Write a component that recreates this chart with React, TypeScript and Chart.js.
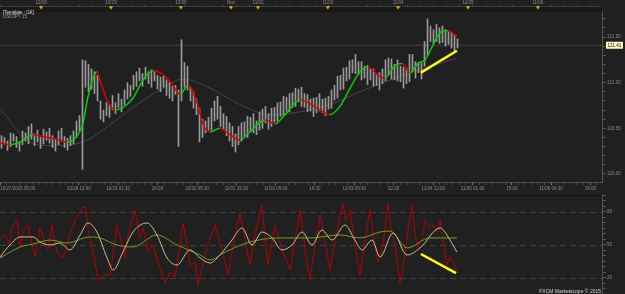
import React, { useEffect, useRef } from 'react';
import { Chart, registerables } from 'chart.js';
Chart.register(...registerables);

// ---------- DATA ----------
// price bars, one per bar index (low / high)
const priceLows = [
  120.28, 120.33, 120.26, 120.30, 120.36, 120.29, 120.25, 120.32, 120.36, 120.33,
  120.38, 120.31, 120.35, 120.28, 120.33, 120.37, 120.34, 120.29, 120.25, 120.32,
  120.36, 120.29, 120.26, 120.31, 120.33, 120.40, 120.47, 120.05, 120.95, 120.90,
  120.93, 120.88, 120.80, 120.60, 120.57, 120.64, 120.62, 120.70, 120.66, 120.73,
  120.68, 120.76, 120.82, 120.85, 120.92, 120.96, 121.02, 120.96, 121.04, 120.99,
  120.95, 121.02, 120.93, 120.90, 120.95, 120.86, 120.83, 120.80, 120.87, 120.30,
  120.80, 120.95, 120.92, 120.80, 120.72, 120.65, 120.35, 120.40, 120.45, 120.48,
  120.48, 120.58, 120.60, 120.52, 120.48, 120.42, 120.36, 120.30, 120.24, 120.32,
  120.36, 120.41, 120.40, 120.46, 120.45, 120.43, 120.48, 120.50, 120.56, 120.49,
  120.52, 120.57, 120.58, 120.63, 120.64, 120.69, 120.68, 120.73, 120.74, 120.79,
  120.74, 120.73, 120.68, 120.69, 120.63, 120.67, 120.69, 120.67, 120.64, 120.71,
  120.72, 120.81, 120.83, 120.92, 120.93, 121.02, 121.04, 121.11, 121.10, 121.09,
  121.03, 121.05, 120.98, 121.03, 120.96, 120.97, 120.92, 120.99, 121.02, 121.09,
  121.04, 121.03, 121.02, 121.01, 120.94, 120.99, 121.01, 121.12, 121.05, 121.11,
  121.04, 121.18, 121.30, 121.45, 121.42, 121.45, 121.43, 121.44, 121.40, 121.42,
  121.38, 121.35, 121.38,
];
const priceHighs = [
  120.42, 120.40, 120.36, 120.45, 120.44, 120.41, 120.35, 120.47, 120.45, 120.52,
  120.55, 120.44, 120.48, 120.40, 120.49, 120.46, 120.50, 120.42, 120.38, 120.47,
  120.50, 120.41, 120.39, 120.42, 120.47, 120.58, 120.64, 121.25, 121.24, 121.20,
  121.15, 121.12, 121.08, 120.80, 120.70, 120.78, 120.76, 120.86, 120.78, 120.88,
  120.82, 120.92, 121.00, 120.97, 121.08, 121.12, 121.16, 121.10, 121.17, 121.12,
  121.14, 121.13, 121.08, 121.06, 121.07, 121.03, 121.00, 120.96, 120.97, 120.92,
  121.47, 121.22, 121.18, 120.95, 120.90, 120.82, 120.72, 120.60, 120.58, 120.62,
  120.72, 120.80, 120.85, 120.74, 120.66, 120.63, 120.56, 120.52, 120.44, 120.52,
  120.56, 120.57, 120.63, 120.62, 120.66, 120.58, 120.68, 120.71, 120.74, 120.66,
  120.72, 120.73, 120.78, 120.79, 120.85, 120.84, 120.88, 120.89, 120.94, 120.93,
  120.95, 120.88, 120.87, 120.82, 120.83, 120.84, 120.88, 120.82, 120.83, 120.85,
  120.92, 120.97, 121.07, 121.08, 121.16, 121.17, 121.24, 121.25, 121.31, 121.23,
  121.23, 121.18, 121.19, 121.15, 121.15, 121.10, 121.11, 121.15, 121.25, 121.27,
  121.26, 121.20, 121.25, 121.18, 121.17, 121.16, 121.31, 121.31, 121.23, 121.22,
  121.21, 121.45, 121.70, 121.62, 121.58, 121.64, 121.60, 121.62, 121.58, 121.56,
  121.55, 121.52, 121.48,
];

// fast moving average (bar index, value)
const maIndex = [0, 3.3, 6.7, 11, 14.3, 17.7, 22.3, 25, 27.7, 29.3, 32.3, 33.3, 35.7, 38.3, 41, 44.3, 47.7, 51, 54.3, 57.7, 60, 62.7, 65.7, 67.7, 70, 73.3, 76.7, 80, 83.3, 88.3, 91.7, 95, 100, 103.3, 106.7, 110, 113.3, 116.7, 120, 122.7, 126, 128.3, 131.7, 134, 136.7, 139.3, 141.7, 144, 145.7, 147.7, 149.3, 152.3];
const maValues = [120.34, 120.32, 120.35, 120.43, 120.41, 120.39, 120.35, 120.39, 120.56, 120.84, 121.12, 121.03, 120.81, 120.70, 120.73, 120.83, 121.03, 121.13, 121.09, 120.97, 120.87, 120.97, 120.78, 120.54, 120.46, 120.50, 120.43, 120.37, 120.46, 120.59, 120.55, 120.65, 120.81, 120.77, 120.70, 120.65, 120.74, 120.94, 121.12, 121.17, 121.08, 121.05, 121.19, 121.21, 121.11, 121.21, 121.25, 121.39, 121.50, 121.57, 121.57, 121.51];

// slow moving average
const slowMaIndex = [0, 9, 16.7, 27.7, 36.7, 44.3, 53.3, 61, 70, 80, 90, 100, 110, 120, 130, 140, 152.3];
const slowMaValues = [120.72, 120.37, 120.31, 120.35, 120.54, 120.73, 120.92, 121.04, 120.94, 120.76, 120.65, 120.68, 120.76, 120.90, 121.03, 121.14, 121.27];

const lastPrice = 121.41;
const priceTrendIndex = [140.3, 152.3];
const priceTrendValues = [121.11, 121.35];

// oscillator lines
const oscRedIndex = [0, 1.7, 3.3, 4, 5.7, 6.7, 7.7, 9.3, 11.7, 13.3, 16, 17.3, 19, 21, 23.3, 25.3, 27.7, 28.7, 29.3, 31, 32.7, 35, 36.7, 39, 40.7, 41.7, 42.7, 45, 46.7, 47.7, 49.3, 51, 52.7, 55, 56.7, 58.3, 60, 61, 62.3, 63.3, 65, 66, 67.7, 69.3, 71.7, 74, 76, 78, 80, 81.7, 83.3, 85.3, 87.3, 89.3, 91.7, 94, 96.7, 98.3, 100, 101.7, 103.3, 105, 106.7, 108.3, 110, 112, 114.3, 115.3, 116.7, 118.3, 120, 121.7, 123.3, 124.7, 126, 127.7, 129.3, 130.7, 131.7, 133.3, 135, 136, 137.3, 138.3, 139.3, 140.7, 141.7, 143.3, 144.3, 145.7, 146.7, 147.7, 149, 150, 151, 152.3];
const oscRedValues = [56.4, 59.1, 50, 65.5, 72.7, 47.3, 61.8, 68.2, 39.1, 65.5, 45.5, 68.2, 43.6, 38.2, 59.1, 74.5, 84.5, 83.6, 65.5, 43.6, 18.2, 22.7, 22.7, 68.2, 50, 38.2, 59.1, 81.8, 56.4, 65.5, 43.6, 50, 34.5, 15.5, 25.5, 20.9, 50, 70, 52.7, 31.8, 34.5, 13.6, 34.5, 50, 68.2, 45.5, 22.7, 54.5, 79.1, 54.5, 31.8, 63.6, 86.4, 31.8, 68.2, 45.5, 27.3, 54.5, 81.8, 45.5, 18.2, 50, 77.3, 54.5, 27.3, 59.1, 88.2, 72.7, 81.8, 50, 22.7, 54.5, 81.8, 54.5, 34.5, 50, 88.2, 59.1, 50, 15.5, 40.9, 63.6, 86.4, 61.8, 47.3, 56.4, 72.7, 66.4, 68.2, 61.8, 72.7, 52.7, 31.8, 39.1, 34.5, 24.5];
const oscTanIndex = [0, 3.3, 6.7, 11, 13.3, 16.7, 20, 23.3, 26.7, 29.3, 32.3, 35.7, 37.7, 41, 44.3, 49, 52.3, 55.7, 59, 63.3, 66.7, 70, 73.3, 77.3, 80.7, 84, 87.3, 90.7, 94, 97.3, 100.7, 104, 107.3, 110.7, 115, 118.3, 120.7, 124, 126.7, 131, 135.7, 140, 146.7, 150, 152.3];
const oscTanValues = [39.1, 50, 57.3, 57.3, 52.7, 50, 51.8, 45.5, 59.1, 70, 61.8, 38.2, 27.3, 43.6, 61.8, 70, 59.1, 38.2, 31.8, 45.5, 38.2, 33.6, 40.9, 54.5, 65.5, 50, 61.8, 56.4, 45.5, 50, 61.8, 50, 63.6, 54.5, 68.2, 54.5, 45.5, 54.5, 39.1, 60.9, 40.9, 47.3, 65.5, 54.5, 43.6];
const oscGreenIndex = [0, 6.7, 11, 16.7, 22.3, 30, 33.3, 39, 44.3, 52.3, 59, 66.7, 70, 75, 83.3, 93.3, 103.3, 113.3, 120, 126.7, 130, 135.7, 143.3, 152.3];
const oscGreenValues = [38.2, 48.2, 50.9, 54.5, 51.8, 57.3, 56.4, 50, 48.2, 59.1, 50, 40.9, 36.4, 43.6, 52.7, 56.4, 56.4, 59.1, 56.4, 61.8, 62.7, 47.3, 56.4, 56.4];
const oscTrendIndex = [140.3, 152];
const oscTrendValues = [41.8, 24.5];
const oscLevels = [20, 50, 80];

// axis labels
const xTickIndex = [0.1, 26.3, 39.4, 52.5, 65.7, 78.8, 91.9, 105.0, 118.1, 131.2, 144.4, 157.5, 170.6, 183.7, 196.8];
const xTickLabels = ['10/27/2015 05:00', '10/28 12:00', '10/29 01:30', '16:00', '10/30 05:30', '11/01 19:30', '11/02 09:00', '19:30', '11/03 09:30', '22:30', '11/04 12:00', '11/05 01:30', '15:00', '11/06 04:30', '18:00'];
const dayMarkIndex = [13.7, 37, 60.3, 77, 86, 109.3, 132.7, 156, 179.3];
const dayMarkLabels = ['10/28', '10/29', '10/30', 'Nov', '11/02', '11/03', '11/04', '11/05', '11/06'];
const templateText = ['[Template : GK]', 'USDJPY 15'];
const copyright = 'FXCM Marketscope © 2015';

// ---------- STYLE ----------
const X_EXTENT = 200.67;
const FONT = 'Liberation Sans';
const GREEN = '#00d000';
const RED = '#e00000';

const pts = (xs: number[], ys: number[]) => xs.map((x, i) => ({ x, y: ys[i] }));

// major ticks plus 6 subdivisions per regular interval
const allXTicks = (() => {
  const n = xTickIndex.length;
  const base = (xTickIndex[n - 1] - xTickIndex[1]) / (n - 2) / 6;
  const out: number[] = [];
  for (let k = 0; k < n - 1; k++) {
    const a = xTickIndex[k], b = xTickIndex[k + 1];
    const m = Math.max(1, Math.round((b - a) / base));
    for (let j = 0; j < m; j++) out.push(j === 0 ? a : a + ((b - a) * j) / m);
  }
  out.push(xTickIndex[n - 1]);
  for (let v = xTickIndex[n - 1] + base; v <= X_EXTENT; v += base) out.push(v);
  return out;
})();

const isMajorX = (v: number) => xTickIndex.findIndex((t) => Math.abs(t - v) < 1e-6);

const priceDecor = {
  id: 'priceDecor',
  afterDraw(chart: any) {
    const { ctx, chartArea, scales } = chart;
    const xs = scales.x, ys = scales.y;
    ctx.save();
    // top date strip
    ctx.fillStyle = '#191919';
    ctx.fillRect(0, 7, chartArea.right, 4);
    ctx.strokeStyle = '#3c3c3c';
    ctx.lineWidth = 1;
    ctx.beginPath();
    ctx.moveTo(0, 6.5);
    ctx.lineTo(chartArea.right, 6.5);
    ctx.stroke();
    ctx.strokeStyle = '#4a4a4a';
    allXTicks.forEach((v, i) => {
      if (i % 2) return;
      const px = Math.round(xs.getPixelForValue(v)) + 0.5;
      ctx.beginPath();
      ctx.moveTo(px, 5);
      ctx.lineTo(px, 7);
      ctx.stroke();
    });
    ctx.font = `4.5px "${FONT}"`;
    ctx.textAlign = 'center';
    ctx.textBaseline = 'middle';
    dayMarkIndex.forEach((v, i) => {
      const px = xs.getPixelForValue(v);
      ctx.fillStyle = '#8a8a8a';
      ctx.fillText(dayMarkLabels[i], px, 2.8);
      ctx.fillStyle = '#d9a400';
      ctx.beginPath();
      ctx.moveTo(px - 1.5, 6);
      ctx.lineTo(px + 1.5, 6);
      ctx.lineTo(px + 1.5, 7.5);
      ctx.lineTo(px, 9.5);
      ctx.lineTo(px - 1.5, 7.5);
      ctx.closePath();
      ctx.fill();
    });
    // frame top
    ctx.strokeStyle = '#131313';
    ctx.beginPath();
    ctx.moveTo(0, chartArea.top + 0.5);
    ctx.lineTo(chartArea.right, chartArea.top + 0.5);
    ctx.stroke();
    // template text
    ctx.textAlign = 'left';
    ctx.fillStyle = '#e0e0e0';
    ctx.fillText(templateText[0], 3, 12.8);
    ctx.fillStyle = '#a0a0a0';
    ctx.fillText(templateText[1], 3, 16.8);
    // last price box
    const py = ys.getPixelForValue(lastPrice);
    ctx.fillStyle = '#ffffc4';
    ctx.fillRect(chartArea.right + 4, py - 3.5, 17, 7);
    ctx.fillStyle = '#000';
    ctx.fillText(lastPrice.toFixed(2), chartArea.right + 5.5, py + 0.2);
    ctx.restore();
  },
};

const oscDecor = {
  id: 'oscDecor',
  beforeDatasetsDraw(chart: any) {
    const { ctx, chartArea, scales } = chart;
    ctx.save();
    ctx.strokeStyle = '#3f3f3f';
    ctx.lineWidth = 1;
    ctx.setLineDash([6, 4]);
    oscLevels.forEach((lv) => {
      const y = Math.round(scales.y.getPixelForValue(lv)) + 0.5;
      ctx.beginPath();
      ctx.moveTo(chartArea.left, y);
      ctx.lineTo(chartArea.right, y);
      ctx.stroke();
    });
    ctx.setLineDash([]);
    ctx.strokeStyle = '#131313';
    ctx.beginPath();
    ctx.moveTo(0, chartArea.top + 0.5);
    ctx.lineTo(chartArea.right, chartArea.top + 0.5);
    ctx.stroke();
    ctx.restore();
  },
  afterDraw(chart: any) {
    const { ctx, chartArea } = chart;
    ctx.save();
    ctx.font = `5px "${FONT}"`;
    ctx.textAlign = 'right';
    ctx.textBaseline = 'alphabetic';
    ctx.fillStyle = '#d8d8d8';
    ctx.fillText(copyright, chartArea.right - 1, chartArea.bottom);
    ctx.restore();
  },
};

export default function App() {
  const c1 = useRef<HTMLCanvasElement>(null);
  const c2 = useRef<HTMLCanvasElement>(null);

  useEffect(() => {
    const tickFont = { size: 4.5, family: FONT };
    const priceChart = new Chart(c1.current as HTMLCanvasElement, {
      type: 'bar',
      data: {
        datasets: [
          {
            type: 'line',
            data: [{ x: 0, y: lastPrice }, { x: X_EXTENT, y: lastPrice }],
            borderColor: '#5e5c4c',
            borderWidth: 1,
            borderDash: [1, 1],
            pointRadius: 0,
            order: 5,
          } as any,
          {
            type: 'line',
            data: pts(slowMaIndex, slowMaValues),
            borderColor: '#464646',
            borderWidth: 1,
            pointRadius: 0,
            cubicInterpolationMode: 'monotone',
            order: 4,
          },
          {
            type: 'bar',
            data: priceLows.map((lo, i) => ({ x: i + 0.5, y: [lo, priceHighs[i]] })),
            backgroundColor: '#9a9a9a',
            barThickness: 1,
            order: 3,
          } as any,
          {
            type: 'line',
            data: pts(maIndex, maValues),
            borderWidth: 1.5,
            borderColor: GREEN,
            segment: {
              borderColor: (ctx: any) => (ctx.p1.parsed.y >= ctx.p0.parsed.y ? GREEN : RED),
            },
            pointRadius: 0,
            cubicInterpolationMode: 'monotone',
            order: 2,
          },
          {
            type: 'line',
            data: pts(priceTrendIndex, priceTrendValues),
            borderColor: '#ffff00',
            borderWidth: 2.5,
            pointRadius: 0,
            order: 1,
          },
        ],
      },
      options: {
        responsive: false,
        animation: false,
        devicePixelRatio: 1,
        layout: { padding: { top: 11, left: 0, right: 0, bottom: 0 } },
        plugins: { legend: { display: false }, tooltip: { enabled: false } },
        scales: {
          x: {
            type: 'linear',
            min: 0,
            max: X_EXTENT,
            offset: false,
            afterBuildTicks: (s: any) => {
              s.ticks = allXTicks.map((v) => ({ value: v }));
            },
            afterFit: (s: any) => {
              s.height = 12;
              s.paddingLeft = 0;
              s.paddingRight = 0;
            },
            grid: {
              drawOnChartArea: false,
              drawTicks: true,
              tickLength: 3,
              offset: false,
              tickColor: (c: any) => (c.tick && isMajorX(c.tick.value) >= 0 ? '#777' : '#4a4a4a'),
            },
            border: { color: '#505050' },
            ticks: {
              autoSkip: false,
              maxRotation: 0,
              minRotation: 0,
              align: 'inner',
              padding: 1,
              color: '#8c8c8c',
              font: tickFont,
              callback: (v: any) => {
                const k = isMajorX(Number(v));
                return k >= 0 ? xTickLabels[k] : '';
              },
            },
          } as any,
          y: {
            position: 'right',
            min: 119.912,
            max: 121.785,
            afterBuildTicks: (s: any) => {
              const t = [];
              for (let k = 1200; k <= 1217; k++) t.push({ value: k / 10 });
              s.ticks = t;
            },
            afterFit: (s: any) => {
              s.width = 23;
              s.paddingTop = 0;
              s.paddingBottom = 0;
            },
            grid: { drawOnChartArea: false, tickLength: 4, tickColor: '#555' },
            border: { color: '#555' },
            ticks: {
              autoSkip: false,
              padding: 1,
              color: '#8c8c8c',
              font: tickFont,
              callback: (v: any) => {
                const n = Number(v);
                return Math.abs(n * 2 - Math.round(n * 2)) < 1e-6 ? n.toFixed(2) : '';
              },
            },
          } as any,
        },
      },
      plugins: [priceDecor],
    });

    const oscChart = new Chart(c2.current as HTMLCanvasElement, {
      type: 'line',
      data: {
        datasets: [
          {
            data: pts(oscRedIndex, oscRedValues),
            borderColor: '#b40000',
            borderWidth: 1,
            pointRadius: 0,
            tension: 0,
            order: 4,
          },
          {
            data: pts(oscGreenIndex, oscGreenValues),
            borderColor: '#6aa020',
            borderWidth: 1,
            pointRadius: 0,
            cubicInterpolationMode: 'monotone',
            order: 3,
          },
          {
            data: pts(oscTanIndex, oscTanValues),
            borderColor: '#c8c08c',
            borderWidth: 1,
            pointRadius: 0,
            cubicInterpolationMode: 'monotone',
            order: 2,
          },
          {
            data: pts(oscTrendIndex, oscTrendValues),
            borderColor: '#ffff00',
            borderWidth: 2.5,
            pointRadius: 0,
            order: 1,
          },
        ],
      },
      options: {
        responsive: false,
        animation: false,
        devicePixelRatio: 1,
        layout: { padding: { top: 1, left: 0, right: 0, bottom: 1 } },
        plugins: { legend: { display: false }, tooltip: { enabled: false } },
        scales: {
          x: { type: 'linear', min: 0, max: X_EXTENT, display: false },
          y: {
            position: 'right',
            min: 6.36,
            max: 95.45,
            afterBuildTicks: (s: any) => {
              const t = [];
              for (let v = 10; v <= 95; v += 5) t.push({ value: v });
              s.ticks = t;
            },
            afterFit: (s: any) => {
              s.width = 23;
              s.paddingTop = 0;
              s.paddingBottom = 0;
            },
            grid: { drawOnChartArea: false, tickLength: 4, tickColor: '#555' },
            border: { color: '#555' },
            ticks: {
              autoSkip: false,
              padding: 1,
              color: '#8c8c8c',
              font: tickFont,
              callback: (v: any) => (oscLevels.includes(Number(v)) ? String(v) : ''),
            },
          } as any,
        },
      },
      plugins: [oscDecor],
    });

    return () => {
      priceChart.destroy();
      oscChart.destroy();
    };
  }, []);

  return (
    <div style={{ position: 'fixed', left: 0, top: 0, width: 625, height: 294, background: '#202020', overflow: 'hidden' }}>
      <canvas ref={c1} width={625} height={194} style={{ position: 'absolute', left: 0, top: 0 }} />
      <canvas ref={c2} width={625} height={100} style={{ position: 'absolute', left: 0, top: 194 }} />
    </div>
  );
}
